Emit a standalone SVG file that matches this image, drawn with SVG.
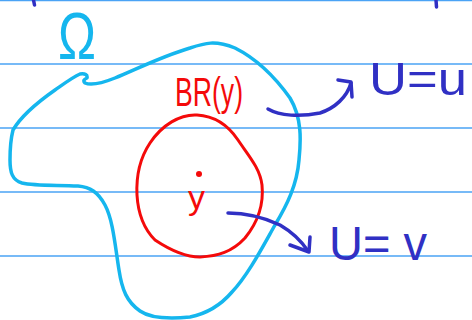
<svg xmlns="http://www.w3.org/2000/svg" width="472" height="320" viewBox="0 0 472 320">
<style>
.rule{stroke:#4aa3f5;stroke-width:1.3}
.ink{fill:none;stroke-linecap:round;stroke-linejoin:round}
.cyan{stroke:#15b6ee;stroke-width:3.5}
.red{stroke:#f40a0a;stroke-width:3}
.blue{stroke:#3030c4;stroke-width:3.5}
.t{font-family:"Liberation Sans","DejaVu Sans",sans-serif}
</style>
<rect width="472" height="320" fill="#ffffff"/>
<g id="paper">
<line class="rule" x1="0" y1="0.7" x2="472" y2="0.7"/>
<line class="rule" x1="0" y1="64" x2="472" y2="64"/>
<line class="rule" x1="0" y1="128" x2="472" y2="128"/>
<line class="rule" x1="0" y1="192" x2="472" y2="192"/>
<line class="rule" x1="0" y1="256" x2="472" y2="256"/>
<path class="ink blue" d="M33.5,0 L34.5,5"/>
<path class="ink blue" d="M436,0 L436.5,7"/>
</g>
<g id="omega">
<path class="ink cyan" d="M13,130 C20,118 35,104 55,90 C65,83 73,77 80,74 Q88,73 87,78 Q82,80 85,83 C92,86 105,82 115,78 C135,70 160,57 190,48 C205,43 215,40 235,48 C255,58 275,77 290,98 C302,118 301,140 299,160 C297,185 287,205 275,225 C262,248 248,275 232,292 C220,306 205,314 190,317 C170,319 150,318 140,311 C127,302 122,290 119,270 C115,245 113,220 105,205 C98,192 90,187 78,186 C55,185 35,186 22,183 C12,180 10,172 10,160 C10,150 11,138 13,130 Z"/>
<text class="t" x="58" y="59" font-size="66" fill="#15b6ee" textLength="38" lengthAdjust="spacingAndGlyphs">Ω</text>
</g>
<g id="ball">
<path class="ink red" d="M197,115 C215,116 228,125 238,140 C248,155 260,168 262,185 C264,205 258,222 245,238 C232,252 218,256 200,257 C185,257 170,250 155,240 C143,228 138,212 137,195 C136,175 140,158 150,143 C162,125 180,114 197,115 Z"/>
<text class="t" x="175" y="106" font-size="40" fill="#f40a0a" textLength="68" lengthAdjust="spacingAndGlyphs">BR(y)</text>
<circle cx="199" cy="174" r="3" fill="#f40a0a"/>
<text class="t" x="188" y="209" font-size="34" fill="#f40a0a">y</text>
</g>
<g id="connectors">
<path class="ink blue" d="M268,109 C280,116 300,117 320,113 C335,108 347,97 351,83"/>
<path class="ink blue" d="M338,80 L351,82 L352,97"/>
<path class="ink blue" d="M228,213 C245,213 265,218 280,225 C292,232 302,242 308,251"/>
<path class="ink blue" d="M290,245 L309,252 L310,237"/>
</g>
<g id="label-u">
<text class="t" x="369" y="95" font-size="46" fill="#3030c4" textLength="98" lengthAdjust="spacingAndGlyphs">U=u</text>
</g>
<g id="label-v">
<text class="t" x="329" y="260" font-size="48" fill="#3030c4" textLength="98" lengthAdjust="spacingAndGlyphs">U= v</text>
</g>
</svg>
